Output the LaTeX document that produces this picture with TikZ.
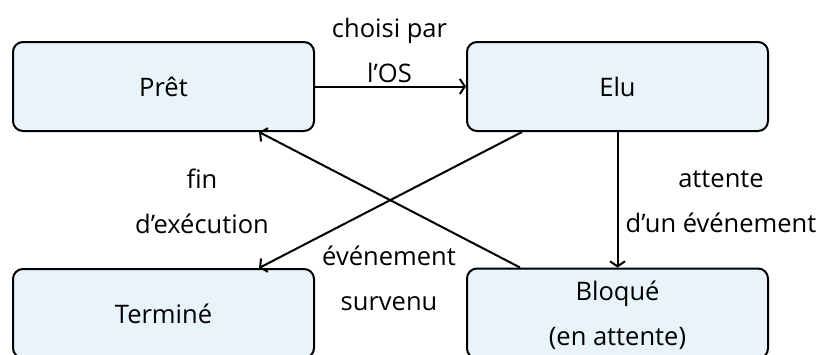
\documentclass[tikz,border=0pt]{standalone}
\usepackage{fontspec}
\setmainfont{Open Sans}
\usetikzlibrary{arrows.meta,calc}
\definecolor{boxfill}{RGB}{232,243,250}
\newcommand{\ls}{\rule[-13pt]{0pt}{45pt}}
\begin{document}
\begin{tikzpicture}[x=1pt,y=-1pt,
  state/.style={draw=black, line width=2pt, fill=boxfill, rounded corners=10pt,
    minimum width=301pt, minimum height=89pt, inner sep=0pt, align=center,
    font=\fontsize{25.5}{45}\selectfont},
  lbl/.style={inner sep=0pt, align=center, font=\fontsize{25.5}{45}\selectfont},
  conn/.style={line width=2pt, -{Straight Barb[length=5pt,width=15pt]}}]
\useasboundingbox (0,0) rectangle (824,354);
\node[state] (pret) at (163.5,86.5) {\ls Prêt};
\node[state] (elu) at (617.5,86.5) {\ls Elu};
\node[state] (term) at (163.5,313.5) {\ls Terminé};
\node[state] (bloq) at (617.5,313.5) {\ls Bloqué\\\ls (en attente)};
\node[lbl] (l1) at (389.5,50) {\ls choisi par\\\ls l’OS};
\node[lbl] (l2) at (202,201) {\ls fin\\\ls d’exécution};
\node[lbl] (l3) at (721,200) {\ls attente\\\ls d’un événement};
\node[lbl] (l4) at (389,278) {\ls événement\\\ls survenu};
\draw[conn] (pret.east) -- (elu.west);
\draw[conn] (elu.south) -- (bloq.north);
\draw[conn] ($(elu.south west)+(56,0)$) -- ($(term.north east)+(-56,0)$);
\draw[conn] ($(bloq.north west)+(54,0)$) -- ($(pret.south east)+(-56,0)$);
\end{tikzpicture}
\end{document}
